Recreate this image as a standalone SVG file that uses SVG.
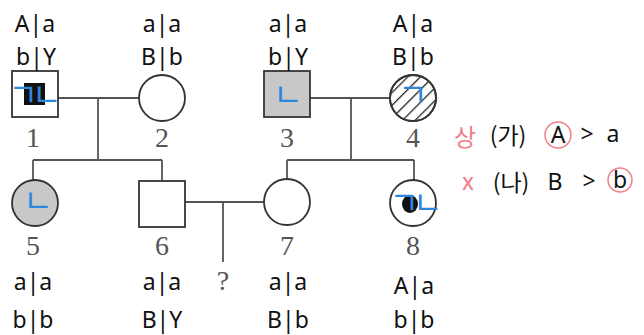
<svg xmlns="http://www.w3.org/2000/svg" width="644" height="335" viewBox="0 0 644 335">
<style>
.ln{stroke:#555;stroke-width:1.8;fill:none}
.nd{stroke:#333;stroke-width:1.8}
.num{font-family:"Liberation Serif","DejaVu Serif",serif;font-size:28px;fill:#555;text-anchor:middle}
.gt{font-family:"Noto Sans","DejaVu Sans",sans-serif;font-size:23px;fill:#111;text-anchor:middle}
.bl{font-family:"Noto Sans CJK KR",sans-serif;font-size:32px;fill:#2f86dd;text-anchor:middle}
.pk{font-family:"Noto Sans CJK KR",sans-serif;font-size:24px;fill:#ef7f86;text-anchor:middle}
.hw{font-family:"Noto Sans CJK KR","Noto Sans",sans-serif;font-size:23px;fill:#111;text-anchor:middle}
</style>
<defs>
<pattern id="hatch" patternUnits="userSpaceOnUse" width="9" height="9" patternTransform="rotate(45)">
<line x1="0" y1="0" x2="0" y2="9" stroke="#222" stroke-width="2.6"/>
</pattern>
</defs>
<g id="connectors">
<line class="ln" x1="58" y1="98" x2="139" y2="98"/>
<line class="ln" x1="98" y1="98" x2="98" y2="160"/>
<line class="ln" x1="33" y1="160" x2="162" y2="160"/>
<line class="ln" x1="33" y1="160" x2="33" y2="180"/>
<line class="ln" x1="162" y1="160" x2="162" y2="181"/>
<line class="ln" x1="310" y1="98" x2="390" y2="98"/>
<line class="ln" x1="351" y1="98" x2="351" y2="160"/>
<line class="ln" x1="287" y1="160" x2="414" y2="160"/>
<line class="ln" x1="287" y1="160" x2="287" y2="179"/>
<line class="ln" x1="414" y1="160" x2="414" y2="180"/>
<line class="ln" x1="185" y1="202" x2="264" y2="202"/>
<line class="ln" x1="223" y1="202" x2="223" y2="262"/>
</g>
<g id="node1">
<rect class="nd" x="12" y="71" width="46" height="46" fill="#fff"/>
<rect x="24" y="83" width="21" height="22" fill="#111"/>
<text class="bl" x="32" y="106" letter-spacing="-6">ㄱㄴ</text>
<text class="num" x="33" y="147">1</text>
<text class="gt" x="35" y="32">A|a</text>
<text class="gt" x="36" y="65">b|Y</text>
</g>
<g id="node2">
<circle class="nd" cx="162" cy="98" r="23" fill="#fff"/>
<text class="num" x="162" y="147">2</text>
<text class="gt" x="162" y="32">a|a</text>
<text class="gt" x="162" y="65">B|b</text>
</g>
<g id="node3">
<rect class="nd" x="264" y="71" width="46" height="46" fill="#c8c8c8"/>
<text class="bl" x="288" y="106">ㄴ</text>
<text class="num" x="287" y="147">3</text>
<text class="gt" x="288" y="32">a|a</text>
<text class="gt" x="288" y="65">b|Y</text>
</g>
<g id="node4">
<circle class="nd" cx="413" cy="98" r="23" fill="#fff"/>
<circle cx="413" cy="98" r="23" fill="url(#hatch)" stroke="#333" stroke-width="1.8"/>
<text class="bl" x="413" y="106">ㄱ</text>
<text class="num" x="413" y="147">4</text>
<text class="gt" x="413" y="32">A|a</text>
<text class="gt" x="413" y="65">B|b</text>
</g>
<g id="node5">
<circle class="nd" cx="35" cy="203" r="23" fill="#c8c8c8"/>
<text class="bl" x="38" y="212">ㄴ</text>
<text class="num" x="33" y="255">5</text>
<text class="gt" x="33" y="290">a|a</text>
<text class="gt" x="33" y="328">b|b</text>
</g>
<g id="node6">
<rect class="nd" x="139" y="181" width="46" height="46" fill="#fff"/>
<text class="num" x="162" y="255">6</text>
<text class="gt" x="162" y="290">a|a</text>
<text class="gt" x="162" y="328">B|Y</text>
</g>
<g id="child">
<text class="num" x="223" y="290">?</text>
</g>
<g id="node7">
<circle class="nd" cx="287" cy="202" r="23" fill="#fff"/>
<text class="num" x="287" y="255">7</text>
<text class="gt" x="288" y="290">a|a</text>
<text class="gt" x="288" y="328">B|b</text>
</g>
<g id="node8">
<circle class="nd" cx="413" cy="203" r="23" fill="#fff"/>
<ellipse cx="410" cy="204" rx="8" ry="9" fill="#111"/>
<text class="bl" x="413" y="214" letter-spacing="-6">ㄱㄴ</text>
<text class="num" x="413" y="255">8</text>
<text class="gt" x="414" y="294">A|a</text>
<text class="gt" x="414" y="328">b|b</text>
</g>
<g id="legend">
<text class="pk" x="465" y="146">상</text>
<text class="hw" x="508" y="144">(가)</text>
<circle cx="558" cy="135" r="13" fill="none" stroke="#ef7f86" stroke-width="1.5"/>
<text class="gt" x="558" y="143">A</text>
<text class="gt" x="587" y="142">&gt;</text>
<text class="gt" x="613" y="142">a</text>
<text class="pk" x="468" y="190">x</text>
<text class="hw" x="511" y="191">(나)</text>
<text class="gt" x="555" y="190">B</text>
<text class="gt" x="589" y="189">&gt;</text>
<circle cx="620" cy="180" r="12" fill="none" stroke="#ef7f86" stroke-width="1.5"/>
<text class="gt" x="620" y="188">b</text>
</g>
</svg>
